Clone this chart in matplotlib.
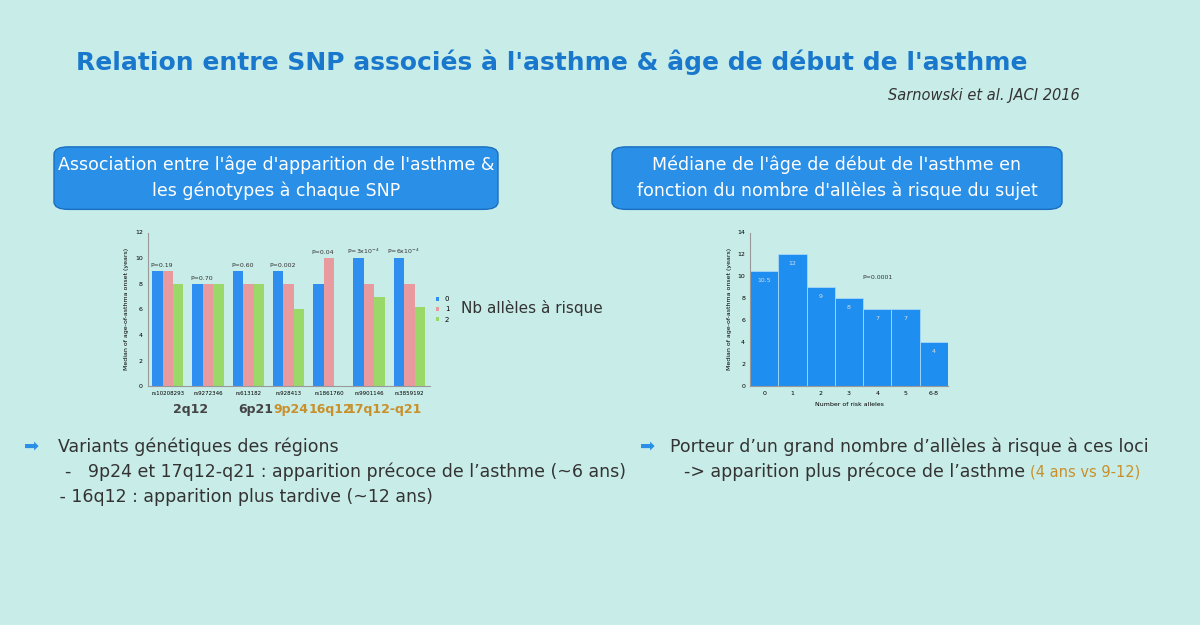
import numpy as np
import matplotlib.pyplot as plt
from matplotlib.patches import FancyBboxPatch

# left chart data: median age of asthma onset by genotype (0, 1, 2 risk alleles)
snps = ['rs10208293', 'rs9272346', 'rs613182', 'rs928413', 'rs1861760', 'rs9901146', 'rs3859192']
age_0 = [9, 8, 9, 9, 8, 10, 10]
age_1 = [9, 8, 8, 8, 10, 8, 8]
age_2 = [8, 8, 8, 6, 0, 7, 6.2]
pvals = ['P=0.19', 'P=0.70', 'P=0.60', 'P=0.002', 'P=0.04', 'P=3x10$^{-4}$', 'P=6x10$^{-4}$']
regions = ['2q12', '6p21', '9p24', '16q12', '17q12-q21']

# right chart data
n_alleles = ['0', '1', '2', '3', '4', '5', '6-8']
median_age = [10.5, 12, 9, 8, 7, 7, 4]

bg = '#c8ece8'
fig = plt.figure(figsize=(12, 6.25), dpi=100)
fig.patch.set_facecolor(bg)

fig.text(0.46, 0.9, "Relation entre SNP associés à l'asthme & âge de début de l'asthme",
         ha='center', va='center', fontsize=18, fontweight='bold', color='#1a78cc')
fig.text(0.9, 0.847, "Sarnowski et al. JACI 2016", ha='right', va='center',
         fontsize=10.5, style='italic', color='#333333')

def box(x, y, w, h, txt):
    p = FancyBboxPatch((x, y), w, h, boxstyle='round,pad=0,rounding_size=0.012',
                       transform=fig.transFigure, facecolor='#2a8fe6', edgecolor='#1a6fc0', lw=1)
    fig.patches.append(p)
    fig.text(x + w / 2, y + h / 2, txt, ha='center', va='center', color='white', fontsize=12.5,
             linespacing=1.5)

box(0.045, 0.665, 0.37, 0.1, "Association entre l'âge d'apparition de l'asthme &\nles génotypes à chaque SNP")
box(0.51, 0.665, 0.375, 0.1, "Médiane de l'âge de début de l'asthme en\nfonction du nombre d'allèles à risque du sujet")

# left chart
ax = fig.add_axes([0.123, 0.382, 0.235, 0.246])
ax.set_facecolor(bg)
x = np.arange(len(snps))
w = 0.26
ax.bar(x - w, age_0, w, color='#2f8ff0', label='0')
ax.bar(x, age_1, w, color='#e89a9e', label='1')
ax.bar(x + w, age_2, w, color='#9ad86a', label='2')
for i, p in enumerate(pvals):
    top = max(age_0[i], age_1[i], age_2[i])
    ax.text(x[i] - 0.15, top + 0.3, p, fontsize=4.5, ha='center', color='#333333')
ax.set_ylim(0, 12)
ax.set_xlim(-0.5, 6.5)
ax.set_yticks(range(0, 13, 2))
ax.set_xticks(x)
ax.set_xticklabels(snps, fontsize=4)
ax.tick_params(axis='y', labelsize=4.5, length=0)
ax.tick_params(axis='x', length=0)
ax.set_ylabel('Median of age-of-asthma onset (years)', fontsize=4.5)
for s in ['top', 'right']:
    ax.spines[s].set_visible(False)
for s in ['left', 'bottom']:
    ax.spines[s].set_color('#999999')
ax.legend(loc='center left', bbox_to_anchor=(1.0, 0.5), frameon=False, fontsize=5,
          handlelength=0.5, handleheight=0.5, labelspacing=0.6)
reg_fx = [0.159, 0.213, 0.242, 0.275, 0.32]
reg_col = ['#444444', '#444444', '#c8902a', '#c8902a', '#c8902a']
for rx, r, c in zip(reg_fx, regions, reg_col):
    fig.text(rx, 0.345, r, ha='center', va='center', fontsize=9, fontweight='bold', color=c)
fig.text(0.384, 0.508, 'Nb allèles à risque', fontsize=11, color='#333333', va='center')

# right chart
ax2 = fig.add_axes([0.625, 0.382, 0.165, 0.246])
ax2.set_facecolor(bg)
xb = np.arange(len(n_alleles))
ax2.bar(xb, median_age, 1.0, color='#1e8ff0', edgecolor='#a8d8f8', linewidth=0.6)
for i, v in enumerate(median_age):
    ax2.text(xb[i], v - 1.0, f'{v:g}', ha='center', fontsize=4.5, color='#dddddd')
ax2.text(4.0, 9.8, 'P=0.0001', fontsize=4.5, ha='center', color='#333333')
ax2.set_ylim(0, 14)
ax2.set_xlim(-0.5, 6.5)
ax2.set_yticks(range(0, 15, 2))
ax2.set_xticks(xb)
ax2.set_xticklabels(n_alleles, fontsize=4.5)
ax2.tick_params(labelsize=4.5, length=0)
ax2.set_xlabel('Number of risk alleles', fontsize=4.5)
ax2.set_ylabel('Median of age-of-asthma onset (years)', fontsize=4.5)
for s in ['top', 'right']:
    ax2.spines[s].set_visible(False)
for s in ['left', 'bottom']:
    ax2.spines[s].set_color('#999999')

# bullet text
fig.text(0.02, 0.285, '➡', fontsize=13, color='#2a8fe6', va='center')
fig.text(0.048, 0.285, 'Variants génétiques des régions', fontsize=12.5, color='#333333', va='center')
fig.text(0.045, 0.245, "  -   9p24 et 17q12-q21 : apparition précoce de l’asthme (~6 ans)",
         fontsize=12.5, color='#333333', va='center')
fig.text(0.045, 0.205, " - 16q12 : apparition plus tardive (~12 ans)",
         fontsize=12.5, color='#333333', va='center')
fig.text(0.533, 0.285, '➡', fontsize=13, color='#2a8fe6', va='center')
fig.text(0.558, 0.285, 'Porteur d’un grand nombre d’allèles à risque à ces loci',
         fontsize=12.5, color='#333333', va='center')
fig.text(0.57, 0.245, '-> apparition plus précoce de l’asthme', fontsize=12.5, color='#333333', va='center')
fig.text(0.858, 0.245, '(4 ans vs 9-12)', fontsize=10.5, color='#c8902a', va='center')

fig.savefig('out.png', dpi=100, facecolor=bg)
